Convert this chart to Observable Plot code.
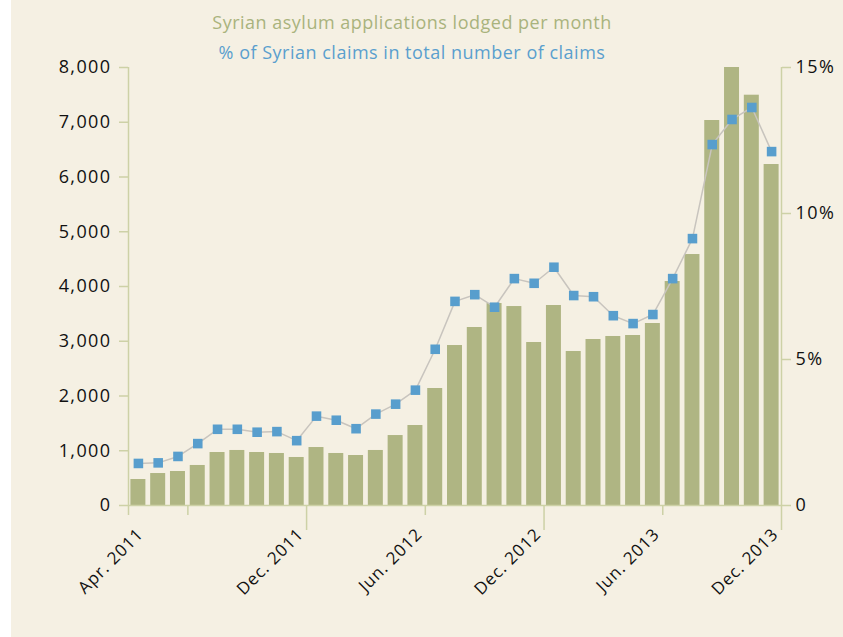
<!DOCTYPE html>
<html>
<head>
<meta charset="utf-8">
<script src="https://cdn.jsdelivr.net/npm/d3@7"></script>
<script src="https://cdn.jsdelivr.net/npm/@observablehq/plot@0.6"></script>
<style>
  html, body { margin: 0; padding: 0; background: #ffffff; }
  #wrap { position: relative; width: 843px; height: 637px; background: #ffffff; overflow: hidden; }
  #panel { position: absolute; left: 11px; top: 0; width: 832px; height: 637px; background: #f5f0e3; }
  .ttl { position: absolute; left: 0; width: 802px; text-align: center; font-family: "Open Sans", sans-serif; font-size: 18px; letter-spacing: 0.5px; white-space: nowrap; }
  #t1 { top: 10px; color: #a9b37d; }
  #t2 { top: 40px; color: #5a9fce; }
  #chart { position: absolute; left: 0; top: 0; }
  #chart svg { background: transparent; overflow: visible; }
  #chart svg text { letter-spacing: 1.4px; }
  #chart svg g.xlab text { letter-spacing: 0.9px; }
</style>
</head>
<body>
<div id="wrap">
  <div id="panel">
    <div id="chart"></div>
    <div class="ttl" id="t1">Syrian asylum applications lodged per month</div>
    <div class="ttl" id="t2">% of Syrian claims in total number of claims</div>
  </div>
</div>
<script>
const months = [
  "Apr. 2011","May 2011","Jun. 2011","Jul. 2011","Aug. 2011","Sep. 2011","Oct. 2011","Nov. 2011","Dec. 2011",
  "Jan. 2012","Feb. 2012","Mar. 2012","Apr. 2012","May 2012","Jun. 2012","Jul. 2012","Aug. 2012","Sep. 2012","Oct. 2012","Nov. 2012","Dec. 2012",
  "Jan. 2013","Feb. 2013","Mar. 2013","Apr. 2013","May 2013","Jun. 2013","Jul. 2013","Aug. 2013","Sep. 2013","Oct. 2013","Nov. 2013","Dec. 2013"
];
const applications = [475,584,621,731,968,1005,968,950,877,1059,950,913,1005,1278,1461,2137,2922,3251,3689,3634,2977,3653,2813,3032,3087,3105,3324,4091,4584,7032,8000,7494,6228];
const sharePct = [1.44,1.46,1.68,2.12,2.61,2.61,2.51,2.53,2.22,3.06,2.92,2.63,3.13,3.47,3.95,5.35,6.99,7.22,6.79,7.77,7.61,8.16,7.19,7.15,6.50,6.23,6.54,7.77,9.14,12.36,13.22,13.63,12.12];
const leftTicks = [0,1000,2000,3000,4000,5000,6000,7000,8000];
const rightTicks = [0,5,10,15];
const rightTickLabels = ["0","5%","10%","15%"];
const xTickLabels = ["Apr. 2011","Dec. 2011","Jun. 2012","Dec. 2012","Jun. 2013","Dec. 2013"];
const xMinorMonths = ["Jun. 2011"];

const yMax = 8000, pMax = 15;
const toY = p => p * yMax / pMax;

const data = months.map((m, i) => ({month: m, i, apps: applications[i], pct: sharePct[i]}));

// band boundaries (month index -> edge)
const edgeOf = m => m === months[0] ? 0 : months.indexOf(m) + 1;
const labelEdges = xTickLabels.map(edgeOf);
const minorEdges = xMinorMonths.map(edgeOf);
const yearEdges = xTickLabels.filter(m => m.startsWith("Dec.")).map(edgeOf);
const shortEdges = [...labelEdges.filter(e => !yearEdges.includes(e)), ...minorEdges];
const labelByEdge = new Map(labelEdges.map((e, k) => [e, xTickLabels[k]]));

const axisColor = "#cdd1a6";
const font = "Open Sans, sans-serif";
const xLabelStyle = {tickSize: 0, tickPadding: 26, tickRotate: -45, tickFormat: e => labelByEdge.get(e),
  fill: "#111", fontSize: 17, label: null, className: "xlab"};

const plot = Plot.plot({
  width: 832,
  height: 637,
  marginLeft: 117,
  marginRight: 62,
  marginTop: 67,
  marginBottom: 132,
  style: {background: "transparent", fontFamily: font, color: "#111"},
  x: {type: "linear", domain: [0, months.length], axis: null},
  y: {domain: [0, yMax], axis: null},
  marks: [
    Plot.rectY(data, {x1: d => d.i, x2: d => d.i + 1, y: "apps", insetLeft: 2.4, insetRight: 2.4, fill: "#afb583"}),
    Plot.line(data, {x: d => d.i + 0.5, y: d => toY(d.pct), stroke: "#c8c4be", strokeWidth: 1.5}),
    Plot.dot(data, {x: d => d.i + 0.5, y: d => toY(d.pct), symbol: "square", r: 5.4, fill: "#589ecd", stroke: "none"}),
    // axis lines
    Plot.ruleX([0, months.length], {stroke: axisColor, strokeWidth: 1.5}),
    Plot.ruleY([0], {stroke: axisColor, strokeWidth: 1.5}),
    // left axis
    Plot.axisY({anchor: "left", ticks: leftTicks, tickSize: 9, tickPadding: 8, tickFormat: d3.format(","),
      stroke: axisColor, strokeWidth: 1.5, fill: "#111", fontSize: 18, label: null}),
    // right axis
    Plot.axisY({anchor: "right", ticks: rightTicks.map(toY), tickSize: 9, tickPadding: 5,
      tickFormat: v => rightTickLabels[rightTicks.indexOf(Math.round(v * pMax / yMax))],
      stroke: axisColor, strokeWidth: 1.5, fill: "#111", fontSize: 18, label: null}),
    // x ticks
    Plot.axisX({ticks: shortEdges, tickSize: 10, tickFormat: () => "", stroke: axisColor, strokeWidth: 1.5, label: null}),
    Plot.axisX({ticks: yearEdges, tickSize: 25, tickFormat: () => "", stroke: axisColor, strokeWidth: 1.5, label: null}),
    // x labels
    Plot.axisX({...xLabelStyle, ticks: labelEdges.slice(0, 1), dx: 12}),
    Plot.axisX({...xLabelStyle, ticks: labelEdges.slice(1), dx: -6})
  ]
});
document.getElementById("chart").appendChild(plot);
</script>
</body>
</html>
